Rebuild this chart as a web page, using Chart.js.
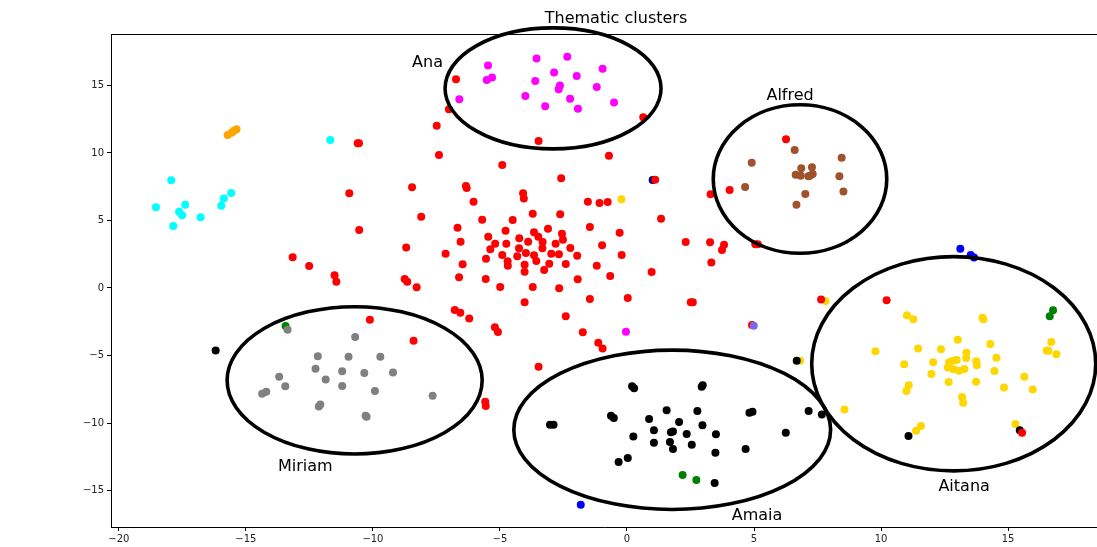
<!DOCTYPE html>
<html>
<head>
<meta charset="utf-8">
<title>Thematic clusters</title>
<script src="https://cdn.jsdelivr.net/npm/chart.js@4/dist/chart.umd.min.js"></script>
<style>
  html, body { margin: 0; padding: 0; background: #fff; overflow: hidden; }
  #wrap { width: 1097px; height: 547px; overflow: hidden; }
</style>
</head>
<body>
<div id="wrap"><canvas id="chart" width="1101" height="547"></canvas></div>
<script>
// --- data ---
const redPoints = [
  [-6.73,15.46],[-7.01,13.24],[-7.49,12.02],[-10.60,10.72],[-10.55,10.72],[-10.93,7.01],
  [-10.54,4.30],[-13.16,2.27],[-12.51,1.63],[-11.51,0.94],[-11.44,0.47],[0.64,12.64],
  [-3.48,10.89],[-7.40,9.85],[-0.71,9.80],[-4.91,9.11],[-2.59,8.13],[-8.46,7.46],
  [-6.34,7.56],[-6.31,7.41],[1.11,8.02],[-4.09,7.01],[-4.06,6.62],[-6.04,6.39],
  [-1.54,6.39],[-1.08,6.30],[-0.76,6.37],[-8.10,5.28],[-3.71,5.50],[-2.63,5.46],
  [1.34,5.13],[-5.70,5.06],[-4.50,5.04],[-6.67,4.47],[-1.46,4.52],[-4.78,4.24],
  [-3.11,4.39],[-0.29,4.10],[-3.66,4.12],[-3.49,3.80],[-2.56,4.02],[-2.52,3.58],
  [-5.46,3.80],[-6.55,3.43],[-4.24,3.68],[-3.89,3.43],[-3.32,3.41],[-5.19,3.28],
  [-4.75,3.28],[-2.81,3.28],[-0.98,3.16],[-8.69,2.99],[-5.38,2.87],[-4.25,2.94],
  [-3.33,2.94],[-2.23,2.96],[-7.14,2.54],[-4.91,2.44],[-3.98,2.59],[-3.66,2.42],
  [-2.98,2.54],[-2.68,2.50],[-4.32,2.35],[-1.96,2.39],[-0.21,2.44],[-5.55,2.17],
  [-3.57,2.00],[-4.70,1.98],[-4.69,1.65],[-3.06,1.80],[-2.41,1.78],[-6.47,1.76],
  [-4.03,1.73],[-4.03,1.21],[-1.19,1.65],[-3.26,1.33],[-6.61,0.79],[-5.56,0.67],
  [-0.66,0.89],[0.97,1.19],[-1.94,0.64],[-8.75,0.67],[-8.65,0.47],[-8.28,0.05],
  [-4.99,0.07],[-3.71,0.07],[-2.67,-0.02],[-1.46,-0.81],[0.03,-0.74],[-4.03,-1.06],
  [-6.78,-1.63],[-6.56,-1.83],[-6.21,-2.25],[-2.41,-2.10],[-5.20,-2.91],[-5.08,-3.26],
  [-1.74,-3.28],[-1.13,-4.05],[-0.96,-4.49],[-8.40,-3.90],[-3.48,-5.83],[-5.58,-8.42],
  [-5.56,-8.74],[-10.12,-2.35],[3.29,6.94],[4.04,7.26],[6.26,11.01],[2.31,3.41],
  [3.27,3.38],[3.82,3.21],[3.74,2.81],[3.32,1.88],[5.05,3.24],[5.15,3.24],
  [2.51,-1.06],[2.59,-1.06],[4.92,-2.74],[7.64,-0.86],[10.22,-0.91],[15.55,-10.72]
];
const magentaPoints = [
  [-5.47,16.47],[-5.52,15.41],[-5.31,15.58],[-6.60,13.98],[-3.56,16.99],[-2.35,17.13],
  [-2.87,15.95],[-3.61,15.33],[-1.98,15.70],[-0.96,16.24],[-2.64,14.99],[-2.69,14.72],
  [-1.19,14.89],[-4.00,14.22],[-2.24,14.02],[-3.22,13.46],[-1.93,13.28],[-0.51,13.73],
  [-0.04,-3.24]
];
const cyanPoints = [
  [-18.54,5.98],[-17.94,7.98],[-17.86,4.59],[-17.39,6.17],[-17.63,5.65],[-17.51,5.38],
  [-16.78,5.24],[-15.97,6.10],[-15.87,6.62],[-15.58,7.04],[-11.68,10.96]
];
const orangePoints = [[-15.72,11.33],[-15.56,11.50],[-15.47,11.65],[-15.37,11.76]];
const brownPoints = [
  [6.60,10.22],[4.91,9.28],[4.65,7.48],[8.45,9.65],[6.86,8.87],[7.28,8.94],[6.64,8.39],
  [6.84,8.32],[7.14,8.27],[7.31,8.44],[7.20,8.32],[8.36,8.27],[8.52,7.14],[7.02,6.96],
  [6.67,6.17]
];
const grayPoints = [
  [-13.36,-3.09],[-10.70,-3.63],[-12.17,-5.06],[-10.96,-5.09],[-9.71,-5.09],[-12.26,-5.98],
  [-11.21,-6.17],[-10.34,-6.30],[-9.21,-6.25],[-13.69,-6.57],[-11.86,-6.77],[-13.45,-7.28],
  [-11.21,-7.26],[-9.92,-7.63],[-14.36,-7.83],[-14.20,-7.68],[-7.65,-7.98],[-12.07,-8.62],
  [-12.13,-8.77],[-10.25,-9.53],[-10.29,-9.46]
];
const blackPoints = [
  [-16.19,-4.62],[0.20,-7.28],[0.28,-7.43],[2.94,-7.31],[2.98,-7.21],[-3.03,-10.12],
  [-2.89,-10.12],[-0.63,-9.46],[-0.52,-9.63],[1.56,-9.06],[2.77,-9.11],[0.87,-9.70],
  [2.05,-9.93],[2.97,-10.17],[4.82,-9.24],[4.94,-9.16],[7.15,-9.11],[7.67,-9.36],
  [6.68,-5.38],[1.06,-10.54],[1.73,-10.69],[1.81,-10.62],[2.35,-10.81],[3.50,-10.84],
  [0.25,-10.99],[6.25,-10.72],[1.06,-11.46],[1.69,-11.41],[2.55,-11.61],[1.81,-11.93],
  [3.48,-12.20],[4.67,-11.93],[0.03,-12.59],[-0.33,-12.89],[3.45,-14.44],
  [11.08,-10.96],[15.46,-10.54]
];
const goldPoints = [
  [-0.22,6.57],[6.81,-5.38],[7.81,-0.96],[11.02,-2.02],[11.27,-2.32],[13.99,-2.20],
  [14.03,-2.32],[13.02,-3.83],[14.30,-4.15],[9.78,-4.69],[11.46,-4.49],[12.36,-4.54],
  [13.36,-4.79],[13.35,-5.19],[14.54,-5.16],[16.70,-4.00],[16.52,-4.62],[16.59,-4.64],
  [16.90,-4.91],[10.91,-5.65],[12.05,-5.50],[12.68,-5.50],[12.82,-5.39],[12.98,-5.33],
  [12.63,-5.88],[12.85,-6.02],[13.07,-6.12],[13.28,-6.00],[13.75,-5.43],[13.77,-5.73],
  [14.46,-6.15],[11.98,-6.37],[12.66,-6.96],[13.74,-6.94],[15.64,-6.57],[14.84,-7.36],
  [15.97,-7.51],[11.09,-7.21],[11.00,-7.63],[13.19,-8.07],[13.23,-8.49],[8.56,-8.99],
  [11.57,-10.22],[11.38,-10.57],[15.29,-10.07]
];
const greenPoints = [[-13.44,-2.81],[2.19,-13.85],[2.73,-14.22],[16.77,-1.65],[16.64,-2.10]];
const bluePoints = [[-1.82,-16.05],[13.12,2.91],[13.53,2.44],[13.66,2.25]];
const navyPoints = [[1.01,8.00]];
const slatePoints = [[4.99,-2.79]];

// cluster ellipses and their names (data units)
const clusterNames = ["Ana", "Alfred", "Miriam", "Amaia", "Aitana"];
const ellipseCX = [-2.91, 6.81, -10.72, 1.78, 12.86];
const ellipseCY = [14.78, 8.07, -6.84, -10.50, -5.61];
const ellipseW  = [8.50, 6.83, 10.04, 12.47, 11.18];
const ellipseH  = [8.96, 11.00, 10.91, 11.80, 15.87];
const labelX = [-7.85, 6.42, -12.66, 5.12, 13.27];
const labelY = [16.37, 13.93, -13.56, -17.19, -15.01];

const xTicks = [-20, -15, -10, -5, 0, 5, 10, 15];
const yTicks = [-15, -10, -5, 0, 5, 10, 15];

const FONT = "'DejaVu Sans', 'Liberation Sans', sans-serif";

function toXY(arr) { return arr.map(p => ({ x: p[0], y: p[1] })); }

// draw order: higher "order" goes to the back
function ds(points, color, order) {
  return {
    data: toXY(points),
    backgroundColor: color,
    borderWidth: 0,
    pointRadius: 4,
    pointHoverRadius: 4,
    order
  };
}

const clusterDecor = {
  id: "clusterDecor",
  afterDatasetsDraw(chart) {
    const { ctx, chartArea, scales: { x, y } } = chart;
    ctx.save();
    // top spine
    ctx.strokeStyle = "#000";
    ctx.lineWidth = 1;
    ctx.beginPath();
    ctx.moveTo(chartArea.left, chartArea.top + 0.5);
    ctx.lineTo(chartArea.right, chartArea.top + 0.5);
    ctx.stroke();

    // ellipses
    ctx.lineWidth = 3.6;
    for (let i = 0; i < clusterNames.length; i++) {
      const cx = x.getPixelForValue(ellipseCX[i]);
      const cy = y.getPixelForValue(ellipseCY[i]);
      const rx = Math.abs(x.getPixelForValue(ellipseCX[i] + ellipseW[i] / 2) - cx);
      const ry = Math.abs(y.getPixelForValue(ellipseCY[i] + ellipseH[i] / 2) - cy);
      ctx.beginPath();
      ctx.ellipse(cx, cy, rx, ry, 0, 0, Math.PI * 2);
      ctx.stroke();
    }

    // names
    ctx.fillStyle = "#000";
    ctx.font = "16px " + FONT;
    ctx.textAlign = "center";
    ctx.textBaseline = "alphabetic";
    for (let i = 0; i < clusterNames.length; i++) {
      ctx.fillText(clusterNames[i], x.getPixelForValue(labelX[i]), y.getPixelForValue(labelY[i]));
    }

    // title (centred over the original, wider axes)
    ctx.fillText("Thematic clusters", 616, 23);
    ctx.restore();
  }
};

const minus = v => String(v).replace("-", "\u2212");

new Chart(document.getElementById("chart"), {
  type: "scatter",
  data: {
    datasets: [
      ds(navyPoints, "#000080", 12),
      ds(goldPoints, "#ffd700", 11),
      ds(greenPoints, "#008000", 10),
      ds(blackPoints, "#000000", 9),
      ds(redPoints, "#ff0000", 8),
      ds(slatePoints, "#7b68ee", 7),
      ds(magentaPoints, "#ff00ff", 6),
      ds(cyanPoints, "#00ffff", 5),
      ds(orangePoints, "#ffa500", 4),
      ds(brownPoints, "#a0522d", 3),
      ds(grayPoints, "#808080", 2),
      ds(bluePoints, "#0000ff", 1)
    ]
  },
  options: {
    responsive: false,
    animation: false,
    events: [],
    layout: { padding: { top: 34, right: 0, bottom: 0, left: 0 } },
    plugins: { legend: { display: false }, tooltip: { enabled: false }, title: { display: false } },
    scales: {
      x: {
        type: "linear",
        min: -20.31,
        max: 18.5,
        afterBuildTicks: s => { s.ticks = xTicks.map(v => ({ value: v })); },
        afterFit: s => { s.height = 20; },
        grid: { drawOnChartArea: false, drawTicks: true, tickLength: 4, tickColor: "#000" },
        border: { display: true, color: "#000", width: 1 },
        ticks: { color: "#222", font: { family: FONT, size: 10 }, padding: 2, maxRotation: 0, callback: minus }
      },
      y: {
        type: "linear",
        min: -17.7,
        max: 18.81,
        afterBuildTicks: s => { s.ticks = yTicks.map(v => ({ value: v })); },
        afterFit: s => { s.width = 111; },
        grid: { drawOnChartArea: false, drawTicks: true, tickLength: 4, tickColor: "#000" },
        border: { display: true, color: "#000", width: 1 },
        ticks: { color: "#222", font: { family: FONT, size: 10 }, padding: 3, callback: minus }
      }
    }
  },
  plugins: [clusterDecor]
});
</script>
</body>
</html>
